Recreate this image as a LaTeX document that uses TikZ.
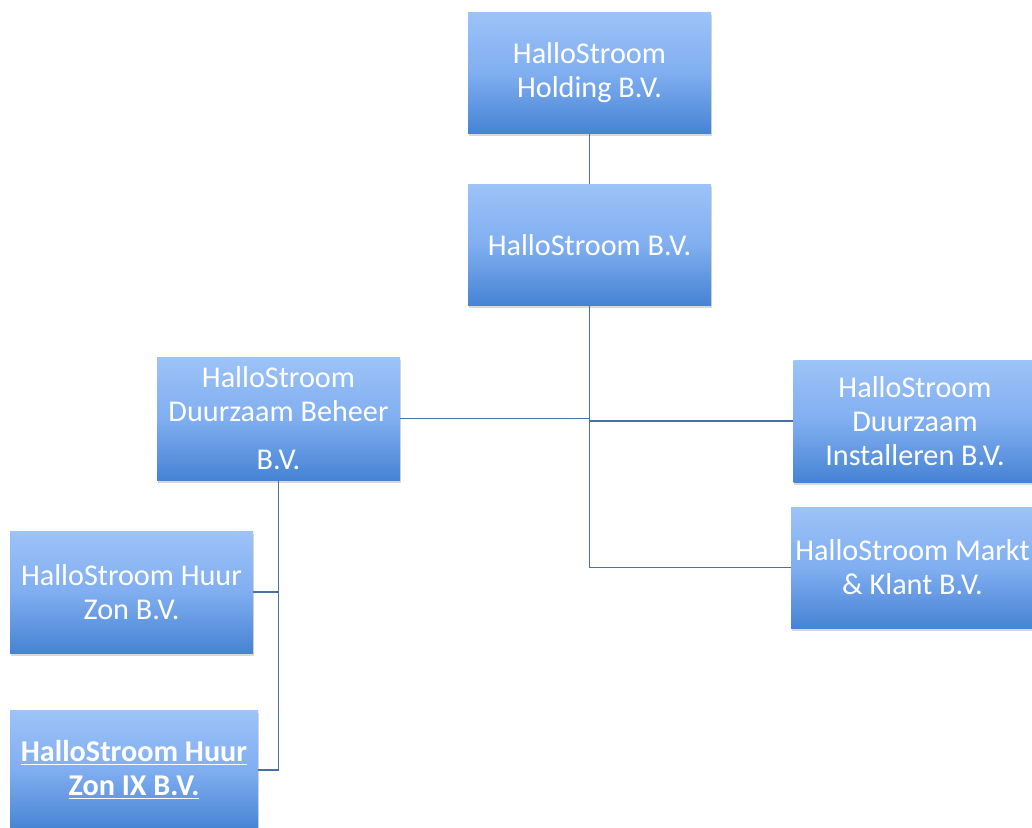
\documentclass[tikz,border=0pt]{standalone}
\usepackage{fontspec}
\setmainfont{Carlito}
\usetikzlibrary{shadows}
\definecolor{boxtop}{HTML}{9DC3F8}
\definecolor{boxmid}{HTML}{80AEF0}
\definecolor{boxbot}{HTML}{4683D4}
\definecolor{conn}{HTML}{4A6FA6}
\tikzset{
  orgbox/.style={rectangle, draw=none, top color=boxtop, bottom color=boxbot, middle color=boxmid,
    minimum width=121.5pt, minimum height=60.5pt, inner sep=0pt, align=center,
    text=white, font=\fontsize{15.1}{17}\selectfont,
    drop shadow={shadow xshift=0.4pt, shadow yshift=-1.4pt, opacity=0.25, fill=black!60}},
  link/.style={draw=conn, line width=0.9pt}
}
\begin{document}
\begin{tikzpicture}[x=0.5pt, y=-0.5pt]
\clip (0,0) rectangle (1032,828);
\fill[white] (0,0) rectangle (1032,828);
\node[orgbox] (hold) at (589.5,73) {HalloStroom\\Holding B.V.};
\node[orgbox] (bv) at (589.5,245) {HalloStroom B.V.};
\node[orgbox, minimum height=61.5pt] (beh) at (278.5,418.5) {HalloStroom\\Duurzaam Beheer\\[7pt]B.V.};
\node[orgbox, minimum height=61pt] (inst) at (915,421) {HalloStroom\\Duurzaam\\Installeren B.V.};
\node[orgbox] (markt) at (912.5,567.5) {HalloStroom Markt\\\&\ Klant B.V.};
\node[orgbox, minimum height=61pt] (zon) at (131.5,592) {HalloStroom Huur\\Zon B.V.};
\node[orgbox, minimum width=124pt, minimum height=60pt] (zon9) at (134,770) {\bfseries\underline{HalloStroom Huur}\\\bfseries\underline{Zon IX B.V.}};
\draw[link] (hold.south) -- (bv.north);
\draw[link] (bv.south) -- (bv.south |- markt.west) -- (markt.west);
\draw[link] (beh.east) -- (beh.east -| bv.south);
\draw[link] (inst.west) -- (inst.west -| bv.south);
\draw[link] (beh.south) -- (beh.south |- zon9.east) -- (zon9.east);
\draw[link] (zon.east) -- (zon.east -| beh.south);
\end{tikzpicture}
\end{document}
